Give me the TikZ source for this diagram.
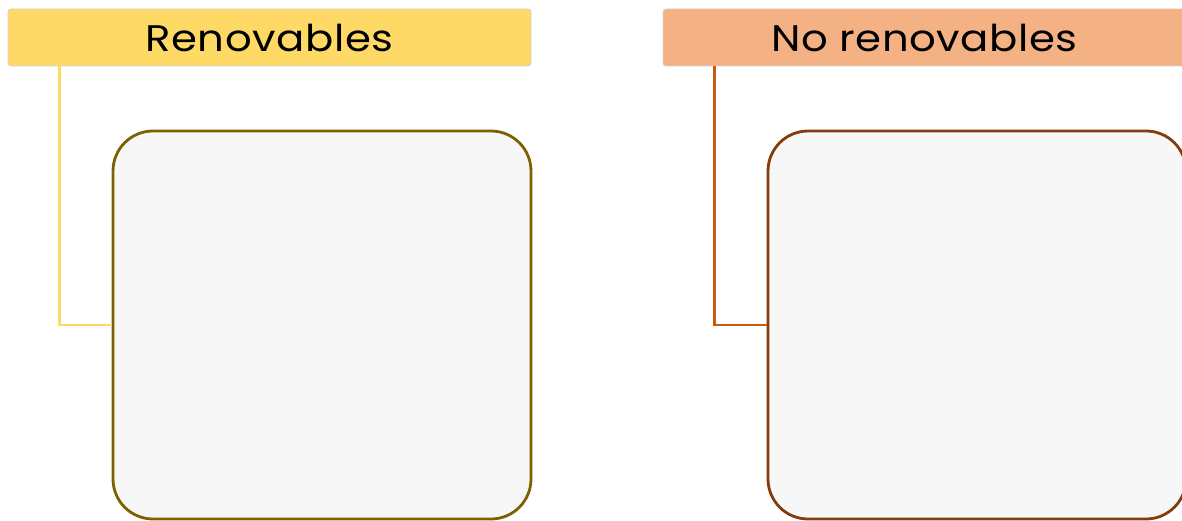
\documentclass[tikz,border=0pt]{standalone}
\usepackage{fontspec}
\setmainfont{Poppins}
\newfontfamily\headfont[FakeStretch=1.13,LetterSpace=1.5]{Poppins}
\usetikzlibrary{calc}
\definecolor{goldfill}{HTML}{FFD966}
\definecolor{goldline}{HTML}{7F6000}
\definecolor{peachfill}{HTML}{F4B183}
\definecolor{rustline}{HTML}{C55A11}
\definecolor{brownline}{HTML}{843C0C}
\definecolor{boxfill}{HTML}{F7F7F7}
\tikzset{
  header/.style={draw=black!18,line width=.8pt,rounded corners=3,minimum width=523,minimum height=57,inner sep=0pt,font=\headfont\fontsize{37}{40}\selectfont},
  panel/.style={fill=boxfill,line width=2.8pt,rounded corners=40,minimum width=418,minimum height=388,inner sep=0pt},
  link/.style={line width=2.6pt}
}
\begin{document}
\begin{tikzpicture}[x=1pt,y=-1pt]
\path[use as bounding box] (0,0) rectangle (1182,521);
% left column
\node[header,fill=goldfill] (renhead) at (269.5,37.5) {Renovables};
\node[panel,draw=goldline] (renbox) at (322,325) {};
\draw[link,goldfill] ($(renhead.south west)+(52,0)$) |- (renbox.west);
% right column
\node[header,fill=peachfill] (nonhead) at (924.5,37.5) {No renovables};
\node[panel,draw=brownline] (nonbox) at (977,325) {};
\draw[link,rustline] ($(nonhead.south west)+(52,0)$) |- (nonbox.west);
\end{tikzpicture}
\end{document}
